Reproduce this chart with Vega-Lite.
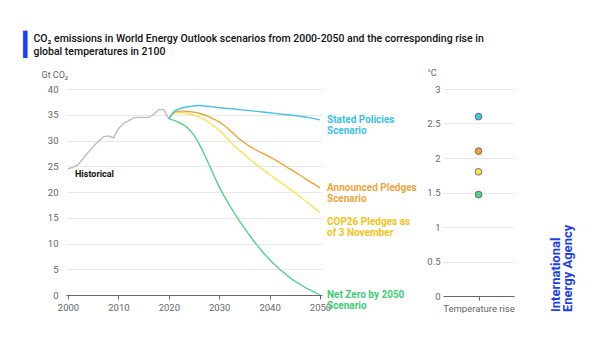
{
  "$schema": "https://vega.github.io/schema/vega-lite/v6.json",
  "background": "white",
  "padding": {"left": 23, "top": 34, "right": 0, "bottom": 0},
  "config": {
    "view": {"stroke": null},
    "font": "Roboto",
    "axis": {"labelFont": "Roboto", "titleFont": "Roboto", "labelFontSize": 9.5, "labelColor": "#666666", "gridColor": "#e8e8e8", "gridWidth": 1, "domainColor": "#666666", "tickColor": "#666666"}
  },
  "title": {
    "text": "▎",
    "subtitle": ["\u200b\u00a0\u00a0\u00a0\u00a0CO₂ emissions in World Energy Outlook scenarios from 2000-2050 and the corresponding rise in", "\u200b\u00a0\u00a0\u00a0\u00a0global temperatures in 2100"],
    "anchor": "start",
    "frame": "group",
    "font": "DejaVu Sans",
    "fontSize": 23,
    "fontWeight": "normal",
    "color": "#1a40ee",
    "subtitleFont": "Roboto",
    "subtitleFontSize": 10.5,
    "subtitleFontWeight": 500,
    "subtitleColor": "#111111",
    "subtitleLineHeight": 12.5,
    "subtitlePadding": -23,
    "dx": -43,
    "offset": 11
  },
  "datasets": {
    "lines": [
      {"series": "Historical", "year": 2000, "value": 24.5},
      {"series": "Historical", "year": 2001, "value": 24.8},
      {"series": "Historical", "year": 2002, "value": 25.3},
      {"series": "Historical", "year": 2003, "value": 26.5},
      {"series": "Historical", "year": 2004, "value": 27.7},
      {"series": "Historical", "year": 2005, "value": 28.8},
      {"series": "Historical", "year": 2006, "value": 29.8},
      {"series": "Historical", "year": 2007, "value": 30.7},
      {"series": "Historical", "year": 2008, "value": 30.9},
      {"series": "Historical", "year": 2009, "value": 30.5},
      {"series": "Historical", "year": 2010, "value": 32.3},
      {"series": "Historical", "year": 2011, "value": 33.3},
      {"series": "Historical", "year": 2012, "value": 33.8},
      {"series": "Historical", "year": 2013, "value": 34.4},
      {"series": "Historical", "year": 2014, "value": 34.5},
      {"series": "Historical", "year": 2015, "value": 34.5},
      {"series": "Historical", "year": 2016, "value": 34.5},
      {"series": "Historical", "year": 2017, "value": 35.1},
      {"series": "Historical", "year": 2018, "value": 36.0},
      {"series": "Historical", "year": 2019, "value": 36.0},
      {"series": "Historical", "year": 2020, "value": 34.2},

      {"series": "Net Zero by 2050 Scenario", "year": 2020, "value": 34.2},
      {"series": "Net Zero by 2050 Scenario", "year": 2021, "value": 33.9},
      {"series": "Net Zero by 2050 Scenario", "year": 2022, "value": 33.5},
      {"series": "Net Zero by 2050 Scenario", "year": 2023, "value": 33.0},
      {"series": "Net Zero by 2050 Scenario", "year": 2024, "value": 32.2},
      {"series": "Net Zero by 2050 Scenario", "year": 2025, "value": 31.0},
      {"series": "Net Zero by 2050 Scenario", "year": 2026, "value": 29.4},
      {"series": "Net Zero by 2050 Scenario", "year": 2027, "value": 27.4},
      {"series": "Net Zero by 2050 Scenario", "year": 2028, "value": 25.3},
      {"series": "Net Zero by 2050 Scenario", "year": 2029, "value": 23.1},
      {"series": "Net Zero by 2050 Scenario", "year": 2030, "value": 21.0},
      {"series": "Net Zero by 2050 Scenario", "year": 2031, "value": 19.2},
      {"series": "Net Zero by 2050 Scenario", "year": 2032, "value": 17.5},
      {"series": "Net Zero by 2050 Scenario", "year": 2033, "value": 15.9},
      {"series": "Net Zero by 2050 Scenario", "year": 2034, "value": 14.4},
      {"series": "Net Zero by 2050 Scenario", "year": 2035, "value": 13.0},
      {"series": "Net Zero by 2050 Scenario", "year": 2036, "value": 11.6},
      {"series": "Net Zero by 2050 Scenario", "year": 2037, "value": 10.3},
      {"series": "Net Zero by 2050 Scenario", "year": 2038, "value": 9.1},
      {"series": "Net Zero by 2050 Scenario", "year": 2039, "value": 7.9},
      {"series": "Net Zero by 2050 Scenario", "year": 2040, "value": 6.9},
      {"series": "Net Zero by 2050 Scenario", "year": 2041, "value": 5.9},
      {"series": "Net Zero by 2050 Scenario", "year": 2042, "value": 5.0},
      {"series": "Net Zero by 2050 Scenario", "year": 2043, "value": 4.2},
      {"series": "Net Zero by 2050 Scenario", "year": 2044, "value": 3.4},
      {"series": "Net Zero by 2050 Scenario", "year": 2045, "value": 2.7},
      {"series": "Net Zero by 2050 Scenario", "year": 2046, "value": 2.1},
      {"series": "Net Zero by 2050 Scenario", "year": 2047, "value": 1.5},
      {"series": "Net Zero by 2050 Scenario", "year": 2048, "value": 1.0},
      {"series": "Net Zero by 2050 Scenario", "year": 2049, "value": 0.5},
      {"series": "Net Zero by 2050 Scenario", "year": 2050, "value": 0.0},

      {"series": "COP26 Pledges as of 3 November", "year": 2020, "value": 34.2},
      {"series": "COP26 Pledges as of 3 November", "year": 2021, "value": 35.3},
      {"series": "COP26 Pledges as of 3 November", "year": 2022, "value": 35.4},
      {"series": "COP26 Pledges as of 3 November", "year": 2023, "value": 35.4},
      {"series": "COP26 Pledges as of 3 November", "year": 2024, "value": 35.2},
      {"series": "COP26 Pledges as of 3 November", "year": 2025, "value": 34.9},
      {"series": "COP26 Pledges as of 3 November", "year": 2026, "value": 34.6},
      {"series": "COP26 Pledges as of 3 November", "year": 2027, "value": 34.1},
      {"series": "COP26 Pledges as of 3 November", "year": 2028, "value": 33.5},
      {"series": "COP26 Pledges as of 3 November", "year": 2029, "value": 32.8},
      {"series": "COP26 Pledges as of 3 November", "year": 2030, "value": 32.0},
      {"series": "COP26 Pledges as of 3 November", "year": 2031, "value": 31.0},
      {"series": "COP26 Pledges as of 3 November", "year": 2032, "value": 30.0},
      {"series": "COP26 Pledges as of 3 November", "year": 2033, "value": 29.0},
      {"series": "COP26 Pledges as of 3 November", "year": 2034, "value": 28.1},
      {"series": "COP26 Pledges as of 3 November", "year": 2035, "value": 27.3},
      {"series": "COP26 Pledges as of 3 November", "year": 2036, "value": 26.4},
      {"series": "COP26 Pledges as of 3 November", "year": 2037, "value": 25.6},
      {"series": "COP26 Pledges as of 3 November", "year": 2038, "value": 24.9},
      {"series": "COP26 Pledges as of 3 November", "year": 2039, "value": 24.1},
      {"series": "COP26 Pledges as of 3 November", "year": 2040, "value": 23.4},
      {"series": "COP26 Pledges as of 3 November", "year": 2042, "value": 22.0},
      {"series": "COP26 Pledges as of 3 November", "year": 2044, "value": 20.6},
      {"series": "COP26 Pledges as of 3 November", "year": 2046, "value": 19.1},
      {"series": "COP26 Pledges as of 3 November", "year": 2048, "value": 17.6},
      {"series": "COP26 Pledges as of 3 November", "year": 2050, "value": 16.0},

      {"series": "Announced Pledges Scenario", "year": 2020, "value": 34.2},
      {"series": "Announced Pledges Scenario", "year": 2021, "value": 35.4},
      {"series": "Announced Pledges Scenario", "year": 2022, "value": 35.7},
      {"series": "Announced Pledges Scenario", "year": 2023, "value": 35.7},
      {"series": "Announced Pledges Scenario", "year": 2024, "value": 35.6},
      {"series": "Announced Pledges Scenario", "year": 2025, "value": 35.5},
      {"series": "Announced Pledges Scenario", "year": 2026, "value": 35.3},
      {"series": "Announced Pledges Scenario", "year": 2027, "value": 35.0},
      {"series": "Announced Pledges Scenario", "year": 2028, "value": 34.6},
      {"series": "Announced Pledges Scenario", "year": 2029, "value": 34.1},
      {"series": "Announced Pledges Scenario", "year": 2030, "value": 33.6},
      {"series": "Announced Pledges Scenario", "year": 2031, "value": 32.9},
      {"series": "Announced Pledges Scenario", "year": 2032, "value": 32.1},
      {"series": "Announced Pledges Scenario", "year": 2033, "value": 31.2},
      {"series": "Announced Pledges Scenario", "year": 2034, "value": 30.3},
      {"series": "Announced Pledges Scenario", "year": 2035, "value": 29.6},
      {"series": "Announced Pledges Scenario", "year": 2036, "value": 28.9},
      {"series": "Announced Pledges Scenario", "year": 2037, "value": 28.3},
      {"series": "Announced Pledges Scenario", "year": 2038, "value": 27.8},
      {"series": "Announced Pledges Scenario", "year": 2039, "value": 27.3},
      {"series": "Announced Pledges Scenario", "year": 2040, "value": 26.8},
      {"series": "Announced Pledges Scenario", "year": 2042, "value": 25.7},
      {"series": "Announced Pledges Scenario", "year": 2044, "value": 24.5},
      {"series": "Announced Pledges Scenario", "year": 2046, "value": 23.3},
      {"series": "Announced Pledges Scenario", "year": 2048, "value": 22.0},
      {"series": "Announced Pledges Scenario", "year": 2050, "value": 20.8},

      {"series": "Stated Policies Scenario", "year": 2020, "value": 34.2},
      {"series": "Stated Policies Scenario", "year": 2021, "value": 35.6},
      {"series": "Stated Policies Scenario", "year": 2022, "value": 36.1},
      {"series": "Stated Policies Scenario", "year": 2023, "value": 36.4},
      {"series": "Stated Policies Scenario", "year": 2024, "value": 36.6},
      {"series": "Stated Policies Scenario", "year": 2025, "value": 36.7},
      {"series": "Stated Policies Scenario", "year": 2026, "value": 36.8},
      {"series": "Stated Policies Scenario", "year": 2027, "value": 36.7},
      {"series": "Stated Policies Scenario", "year": 2028, "value": 36.6},
      {"series": "Stated Policies Scenario", "year": 2029, "value": 36.5},
      {"series": "Stated Policies Scenario", "year": 2030, "value": 36.35},
      {"series": "Stated Policies Scenario", "year": 2032, "value": 36.2},
      {"series": "Stated Policies Scenario", "year": 2034, "value": 36.0},
      {"series": "Stated Policies Scenario", "year": 2036, "value": 35.8},
      {"series": "Stated Policies Scenario", "year": 2038, "value": 35.6},
      {"series": "Stated Policies Scenario", "year": 2040, "value": 35.4},
      {"series": "Stated Policies Scenario", "year": 2042, "value": 35.15},
      {"series": "Stated Policies Scenario", "year": 2044, "value": 34.95},
      {"series": "Stated Policies Scenario", "year": 2046, "value": 34.7},
      {"series": "Stated Policies Scenario", "year": 2048, "value": 34.4},
      {"series": "Stated Policies Scenario", "year": 2050, "value": 34.0}
    ],
    "labels": [
      {"series": "Stated Policies Scenario", "year": 2050, "value": 34.0, "label": "Stated Policies\nScenario"},
      {"series": "Announced Pledges Scenario", "year": 2050, "value": 20.8, "label": "Announced Pledges\nScenario"},
      {"series": "COP26 Pledges as of 3 November", "year": 2050, "value": 16.0, "label": "COP26 Pledges as\nof 3 November"},
      {"series": "Net Zero by 2050 Scenario", "year": 2050, "value": 0.0, "label": "Net Zero by 2050\nScenario"}
    ],
    "temps": [
      {"cat": "Temperature rise", "series": "Stated Policies Scenario", "temp": 2.6},
      {"cat": "Temperature rise", "series": "Announced Pledges Scenario", "temp": 2.1},
      {"cat": "Temperature rise", "series": "COP26 Pledges as of 3 November", "temp": 1.8},
      {"cat": "Temperature rise", "series": "Net Zero by 2050 Scenario", "temp": 1.47}
    ]
  },
  "bounds": "flush",
  "spacing": 121,
  "hconcat": [
    {
      "width": 256,
      "height": 206,
      "encoding": {
        "x": {"field": "year", "type": "quantitative", "scale": {"domain": [1999.6, 2050.4], "nice": false, "zero": false},
          "axis": {"values": [2000, 2010, 2020, 2030, 2040, 2050], "format": "d", "grid": false, "tickSize": 4, "labelPadding": 3, "title": null}},
        "y": {"field": "value", "type": "quantitative", "scale": {"domain": [0, 40], "nice": false},
          "axis": {"values": [0, 5, 10, 15, 20, 25, 30, 35, 40], "grid": true, "domain": false, "ticks": false, "labelPadding": 8,
            "title": "Gt CO₂", "titleAngle": 0, "titleAlign": "left", "titleBaseline": "middle", "titleX": -25, "titleY": -15,
            "titleFontSize": 9, "titleFontWeight": "normal", "titleColor": "#666666"}}
      },
      "layer": [
        {
          "data": {"name": "lines"},
          "transform": [{"filter": "datum.series === 'Historical'"}],
          "mark": {"type": "line", "strokeWidth": 1.4, "color": "#bdbdbd"}
        },
        {
          "data": {"name": "lines"},
          "transform": [{"filter": "datum.series !== 'Historical'"}],
          "mark": {"type": "line", "strokeWidth": 1.4, "interpolate": "monotone"},
          "encoding": {
            "color": {"field": "series", "type": "nominal",
              "scale": {"domain": ["Stated Policies Scenario", "Announced Pledges Scenario", "COP26 Pledges as of 3 November", "Net Zero by 2050 Scenario"],
                "range": ["#45c3e8", "#efa43a", "#f7e352", "#55d486"]},
              "legend": null}
          }
        },
        {
          "data": {"name": "lines"},
          "transform": [{"filter": "datum.series === 'Historical' && datum.year === 2000"}],
          "mark": {"type": "text", "text": "Historical", "align": "left", "baseline": "middle", "dx": 7, "dy": 5, "font": "Roboto", "fontSize": 9, "fontWeight": "bold", "color": "#111111"}
        },
        {
          "data": {"name": "labels"},
          "transform": [{"filter": "datum.series !== 'COP26 Pledges as of 3 November'"}],
          "mark": {"type": "text", "align": "left", "baseline": "middle", "dx": 7, "lineBreak": "\n", "lineHeight": 11, "font": "Roboto", "fontSize": 10, "fontWeight": "bold"},
          "encoding": {
            "text": {"field": "label"},
            "color": {"field": "series", "type": "nominal",
              "scale": {"domain": ["Stated Policies Scenario", "Announced Pledges Scenario", "COP26 Pledges as of 3 November", "Net Zero by 2050 Scenario"],
                "range": ["#3dbfe8", "#f0a53a", "#f2c318", "#3fcc74"]},
              "legend": null}
          }
        },
        {
          "data": {"name": "labels"},
          "transform": [{"filter": "datum.series === 'COP26 Pledges as of 3 November'"}],
          "mark": {"type": "text", "align": "left", "baseline": "middle", "dx": 7, "dy": 9, "lineBreak": "\n", "lineHeight": 11, "font": "Roboto", "fontSize": 10, "fontWeight": "bold", "color": "#f2c318"},
          "encoding": {
            "text": {"field": "label"}
          }
        }
      ],
      "resolve": {"scale": {"color": "independent"}}
    },
    {
      "width": 71,
      "height": 207,
      "data": {"name": "temps"},
      "mark": {"type": "circle", "size": 45, "stroke": "#555555", "strokeWidth": 0.8, "opacity": 1},
      "encoding": {
        "x": {"field": "cat", "type": "nominal", "axis": {"labelAngle": 0, "title": null, "tickSize": 4, "labelPadding": 3}},
        "y": {"field": "temp", "type": "quantitative", "scale": {"domain": [0, 3], "nice": false},
          "axis": {"values": [0, 0.5, 1, 1.5, 2, 2.5, 3], "format": "~g", "grid": true, "domain": false, "ticks": false, "labelPadding": 3,
            "title": "°C", "titleAngle": 0, "titleAlign": "left", "titleBaseline": "middle", "titleX": -16, "titleY": -17,
            "titleFontSize": 9, "titleFontWeight": "normal", "titleColor": "#666666"}},
        "fill": {"field": "series", "type": "nominal",
          "scale": {"domain": ["Stated Policies Scenario", "Announced Pledges Scenario", "COP26 Pledges as of 3 November", "Net Zero by 2050 Scenario"],
            "range": ["#45c3e8", "#efa43a", "#f7e352", "#55d486"]},
          "legend": null}
      },
      "title": {
        "text": ["International", "Energy Agency"],
        "orient": "right",
        "anchor": "end",
        "align": "left",
        "baseline": "top",
        "angle": -90,
        "frame": "group",
        "font": "Roboto",
        "fontSize": 13,
        "fontWeight": "bold",
        "color": "#1a40ee",
        "lineHeight": 12,
        "offset": 11,
        "dx": -16
      }
    }
  ]
}
